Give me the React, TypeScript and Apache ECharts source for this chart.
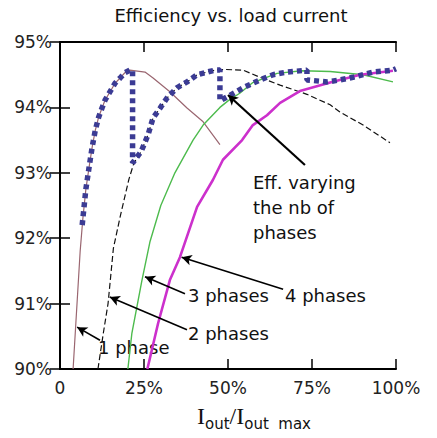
import React, { useEffect, useRef } from 'react';
import * as echarts from 'echarts';

const chartTitle = 'Efficiency vs. load current';
const xTickLabels: Record<number, string> = { 0: '0', 25: '25%', 50: '50%', 75: '75%', 100: '100%' };

const onePhaseLoad = [3.9, 4.6, 5.3, 6.0, 6.8, 7.7, 8.7, 9.6, 10.5, 11.5, 12.5, 13.4, 14.9, 16.4, 17.9, 19.3, 20.8, 25.3, 27.7, 32.7, 37.8, 42.6, 47.6];
const onePhaseEff = [90.0, 90.6, 91.2, 91.8, 92.3, 92.75, 93.1, 93.4, 93.65, 93.85, 93.99, 94.11, 94.24, 94.37, 94.45, 94.53, 94.57, 94.54, 94.45, 94.24, 93.99, 93.78, 93.43];

const twoPhaseLoad = [11.3, 12.9, 14.3, 15.9, 18.0, 20.5, 22.0, 24.1, 26.2, 27.7, 29.8, 31.8, 34.8, 37.8, 40.8, 43.8, 46.1, 49.0, 54.5, 59.5, 65.5, 73.5, 80.4, 83.3, 90.2, 98.2];
const twoPhaseEff = [90.0, 90.55, 91.0, 91.85, 92.35, 92.9, 93.15, 93.32, 93.58, 93.84, 93.99, 94.14, 94.3, 94.39, 94.5, 94.54, 94.57, 94.58, 94.57, 94.46, 94.34, 94.2, 94.04, 93.93, 93.73, 93.46];

const threePhaseLoad = [20.2, 21.4, 24.4, 26.8, 30.0, 34.2, 39.6, 42.6, 47.6, 50.0, 53.6, 57.4, 64.6, 72.0, 80.4, 90.2, 99.1];
const threePhaseEff = [90.0, 90.55, 91.36, 91.95, 92.5, 93.0, 93.5, 93.73, 94.0, 94.1, 94.22, 94.38, 94.52, 94.56, 94.55, 94.5, 94.39];

const fourPhaseLoad = [26.0, 29.2, 32.7, 35.7, 40.8, 45.5, 48.5, 54.2, 57.4, 61.6, 65.5, 71.4, 80.4, 89.3, 99.1];
const fourPhaseEff = [90.0, 90.7, 91.36, 91.71, 92.48, 92.89, 93.2, 93.5, 93.73, 93.88, 94.07, 94.25, 94.38, 94.5, 94.56];

const bestLoad = [6.6, 6.8, 7.7, 8.7, 9.6, 10.5, 11.5, 12.5, 13.4, 14.9, 16.4, 17.9, 19.3, 20.8, 21.6, 21.6, 24.1, 26.2, 27.7, 29.8, 31.8, 34.8, 37.8, 40.8, 43.8, 46.1, 47.6, 47.6, 49.7, 54.5, 59.5, 63.4, 67.6, 73.5, 73.5, 77.4, 79.5, 83.3, 87.2, 93.2, 99.1, 100];
const bestEff = [92.2, 92.3, 92.75, 93.1, 93.4, 93.65, 93.85, 93.99, 94.11, 94.24, 94.37, 94.45, 94.53, 94.57, 94.57, 93.15, 93.32, 93.58, 93.84, 93.99, 94.14, 94.3, 94.39, 94.5, 94.54, 94.57, 94.57, 94.1, 94.16, 94.3, 94.42, 94.5, 94.54, 94.57, 94.42, 94.4, 94.39, 94.42, 94.46, 94.54, 94.57, 94.59];

// annotation arrows: [fromLoad, fromEff, toLoad, toEff]
const arrowOne = [11.9, 90.44, 5.1, 90.64];
const arrowTwo = [37.8, 90.6, 14.8, 91.1];
const arrowThree = [37.2, 91.15, 25.3, 91.41];
const arrowFour = [66.4, 91.22, 36.2, 91.71];
const arrowBest = [72.9, 93.12, 50.0, 94.19];

const zip = (xs: number[], ys: number[]) => xs.map((x, i) => [x, ys[i]]);

const SANS = 'DejaVu Sans';

export default function App() {
  const ref = useRef<HTMLDivElement>(null);
  useEffect(() => {
    if (!ref.current) return;
    const chart = echarts.init(ref.current, undefined, { renderer: 'svg' });
    const axisLineStyle = { color: '#000', width: 2 };
    const tickStyle = { color: '#000', width: 1.5 };
    const arrow = (a: number[], width = 1.6) => [
      { coord: [a[0], a[1]], symbol: 'none', lineStyle: { color: '#000', width, type: 'solid' } },
      { coord: [a[2], a[3]] },
    ];
    const annText = (text: string, x: number, y: number) => ({
      type: 'text',
      x,
      y,
      silent: true,
      style: { text, fontSize: 18, fontFamily: SANS, fill: '#111', align: 'left', verticalAlign: 'middle' },
    });
    chart.setOption({
      animation: false,
      backgroundColor: '#fff',
      grid: { left: 60, right: 41, top: 42, bottom: 69 },
      xAxis: [
        {
          type: 'value', min: 0, max: 100, interval: 25, position: 'bottom',
          axisLine: { show: true, lineStyle: axisLineStyle },
          axisTick: { show: true, inside: true, length: 10, lineStyle: tickStyle },
          axisLabel: { formatter: (v: number) => xTickLabels[v] ?? '', fontSize: 17, fontFamily: SANS, color: '#222', margin: 10 },
          splitLine: { show: false },
        },
        {
          type: 'value', min: 0, max: 100, interval: 25, position: 'top',
          axisLine: { show: true, lineStyle: axisLineStyle },
          axisTick: { show: true, inside: true, length: 10, lineStyle: tickStyle },
          axisLabel: { show: false },
          splitLine: { show: false },
        },
      ],
      yAxis: [
        {
          type: 'value', min: 90, max: 95, interval: 1, position: 'left',
          axisLine: { show: true, lineStyle: axisLineStyle },
          axisTick: { show: true, inside: true, length: 10, lineStyle: tickStyle },
          axisLabel: { formatter: (v: number) => v + '%', fontSize: 17, fontFamily: SANS, color: '#222', margin: 8 },
          splitLine: { show: false },
        },
        {
          type: 'value', min: 90, max: 95, interval: 1, position: 'right',
          axisLine: { show: true, lineStyle: axisLineStyle },
          axisTick: { show: true, inside: true, length: 10, lineStyle: tickStyle },
          axisLabel: { show: false },
          splitLine: { show: false },
        },
      ],
      series: [
        {
          name: '1 phase', type: 'line', showSymbol: false, symbol: 'none', silent: true,
          data: zip(onePhaseLoad, onePhaseEff),
          lineStyle: { color: '#9a6670', width: 1.2 },
        },
        {
          name: '2 phases', type: 'line', showSymbol: false, symbol: 'none', silent: true,
          data: zip(twoPhaseLoad, twoPhaseEff),
          lineStyle: { color: '#111', width: 1.2, type: [6, 3] },
        },
        {
          name: '3 phases', type: 'line', showSymbol: false, symbol: 'none', silent: true,
          data: zip(threePhaseLoad, threePhaseEff),
          lineStyle: { color: '#4dbb4d', width: 1.4 },
        },
        {
          name: '4 phases', type: 'line', showSymbol: false, symbol: 'none', silent: true,
          data: zip(fourPhaseLoad, fourPhaseEff),
          lineStyle: { color: '#cc30cc', width: 2.6 },
        },
        {
          name: 'Eff. varying', type: 'line', showSymbol: false, symbol: 'none', silent: true,
          data: zip(bestLoad, bestEff),
          lineStyle: { color: '#3b3b94', width: 5.5, type: [5, 4], cap: 'butt' },
        },
        {
          name: 'arrows', type: 'line', data: [], silent: true,
          markLine: {
            silent: true,
            symbol: ['none', 'arrow'],
            symbolSize: [8, 10],
            label: { show: false },
            lineStyle: { color: '#000', width: 1.6, type: 'solid' },
            data: [arrow(arrowOne), arrow(arrowTwo), arrow(arrowThree), arrow(arrowFour), arrow(arrowBest, 2.2)],
          },
        },
      ],
      graphic: [
        {
          type: 'text', x: 231, y: 15, silent: true,
          style: { text: chartTitle, fontSize: 18, fontFamily: SANS, fill: '#111', align: 'center', verticalAlign: 'middle' },
        },
        annText('1 phase', 98, 347),
        annText('2 phases', 188, 333),
        annText('3 phases', 188, 295),
        annText('4 phases', 285, 295),
        {
          type: 'text', x: 253, y: 170, silent: true,
          style: {
            text: 'Eff. varying\nthe nb of\nphases', fontSize: 18, lineHeight: 25, fontFamily: SANS,
            fill: '#111', align: 'left', verticalAlign: 'top',
          },
        },
        {
          type: 'text', x: 197, y: 405, silent: true,
          style: {
            text: '{i|I}{s|out}{i|/I}{s|out  max}',
            fill: '#111',
            rich: {
              i: { fontSize: 24, fontFamily: 'Liberation Serif', lineHeight: 26, padding: [0, 0, 3, 0], verticalAlign: 'bottom', fill: '#111' },
              s: { fontSize: 15, fontFamily: SANS, lineHeight: 14, verticalAlign: 'bottom', fill: '#111' },
            },
          },
        },
      ],
    });
    return () => chart.dispose();
  }, []);
  return <div ref={ref} style={{ position: 'fixed', left: 0, top: 0, width: 437, height: 438 }} />;
}
